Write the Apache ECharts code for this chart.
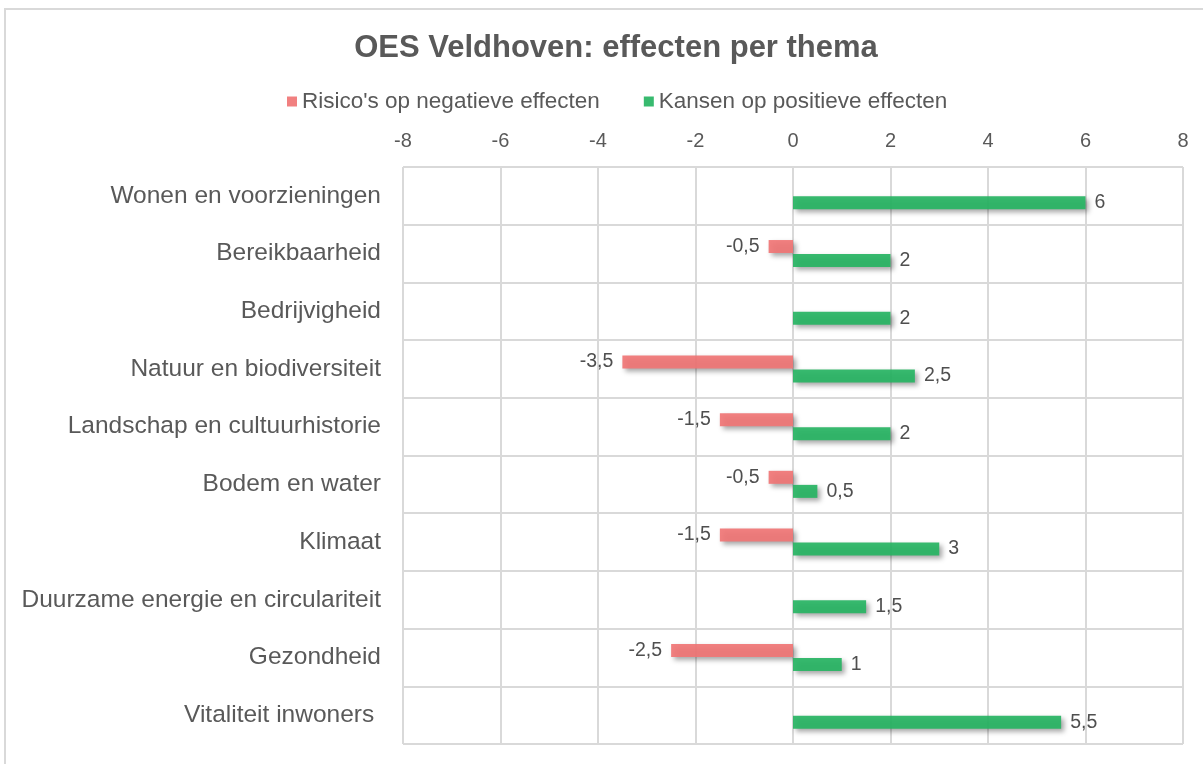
<!DOCTYPE html>
<html>
<head>
<meta charset="utf-8">
<title>OES Veldhoven: effecten per thema</title>
<script src="https://cdn.jsdelivr.net/npm/echarts@6/dist/echarts.min.js"></script>
<style>
  html, body { margin: 0; padding: 0; background: #ffffff; }
  #chart { width: 1203px; height: 764px; }
</style>
</head>
<body>
<div id="chart"></div>
<script>
// Themes, listed top to bottom
const categories = [
  'Wonen en voorzieningen',
  'Bereikbaarheid',
  'Bedrijvigheid',
  'Natuur en biodiversiteit',
  'Landschap en cultuurhistorie',
  'Bodem en water',
  'Klimaat',
  'Duurzame energie en circulariteit',
  'Gezondheid',
  'Vitaliteit inwoners '
];

// Risks of negative effects (no bar where a theme has none)
const risico = [null, -0.5, null, -3.5, -1.5, -0.5, -1.5, null, -2.5, null];

// Chances of positive effects
const kansen = [6, 2, 2, 2.5, 2, 0.5, 3, 1.5, 1, 5.5];

const seriesNames = ["Risico's op negatieve effecten", 'Kansen op positieve effecten'];

const axisMin = -8;
const axisMax = 8;
const axisStep = 2;

const FONT = '"Liberation Sans", Arial, sans-serif';
const TEXT = '#595959';
const GRID = '#D9D9D9';

// Dutch decimal comma
const fmt = v => String(v).replace('.', ',');

const barShadow = {
  shadowColor: 'rgba(0,0,0,0.38)',
  shadowBlur: 5,
  shadowOffsetX: 3,
  shadowOffsetY: 3
};

const chart = echarts.init(document.getElementById('chart'), null, { renderer: 'canvas' });

chart.setOption({
  backgroundColor: '#ffffff',
  animation: false,
  graphic: [{
    type: 'rect',
    shape: { x: 5, y: 9, width: 1400, height: 1000 },
    style: { fill: 'none', stroke: GRID, lineWidth: 2 },
    silent: true,
    z: -10
  }],
  title: {
    text: 'OES Veldhoven: effecten per thema',
    left: 611,
    textAlign: 'center',
    top: 28,
    textStyle: { fontFamily: FONT, fontSize: 31, fontWeight: 'bold', color: TEXT }
  },
  legend: {
    top: 85,
    left: 282,
    itemWidth: 10,
    itemHeight: 10,
    itemGap: 44,
    icon: 'rect',
    textStyle: { fontFamily: FONT, fontSize: 22.5, color: TEXT },
    data: seriesNames
  },
  grid: { left: 403, right: 20, top: 167, bottom: 20, containLabel: false },
  xAxis: {
    type: 'value',
    position: 'top',
    min: axisMin,
    max: axisMax,
    interval: axisStep,
    axisLine: { show: false },
    axisTick: { show: false },
    axisLabel: { fontFamily: FONT, fontSize: 20, color: TEXT, margin: 16, formatter: fmt },
    splitLine: { show: true, lineStyle: { color: GRID, width: 2 } }
  },
  yAxis: {
    type: 'category',
    inverse: true,
    data: categories,
    axisLine: { show: false },
    axisTick: { show: false },
    axisLabel: { fontFamily: FONT, fontSize: 24.5, color: TEXT, margin: 22 },
    splitLine: { show: true, lineStyle: { color: GRID, width: 2 } }
  },
  series: [
    {
      name: seriesNames[0],
      type: 'bar',
      data: risico,
      barWidth: 13,
      barGap: '8%',
      itemStyle: Object.assign({ color: '#F07575', opacity: 0.92 }, barShadow),
      label: {
        show: true,
        position: 'left',
        distance: 9,
        fontFamily: FONT,
        fontSize: 19.5,
        color: '#404040',
        formatter: p => fmt(p.value)
      }
    },
    {
      name: seriesNames[1],
      type: 'bar',
      data: kansen,
      barWidth: 13,
      barGap: '8%',
      itemStyle: Object.assign({ color: '#27B463', opacity: 0.92 }, barShadow),
      label: {
        show: true,
        position: 'right',
        distance: 9,
        fontFamily: FONT,
        fontSize: 19.5,
        color: '#404040',
        formatter: p => fmt(p.value)
      }
    }
  ]
});
</script>
</body>
</html>
